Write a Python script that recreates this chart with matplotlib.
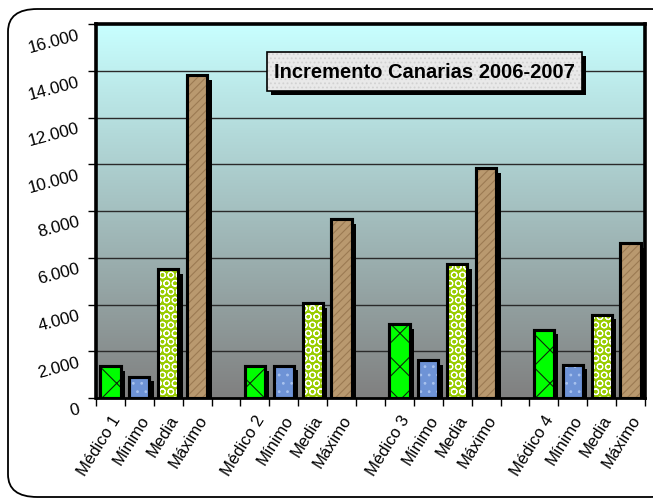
import numpy as np
import matplotlib
matplotlib.use("Agg")
import matplotlib.pyplot as plt
from matplotlib.patches import FancyBboxPatch, Rectangle
from matplotlib.transforms import ScaledTranslation
import matplotlib.patheffects as pe

plt.rcParams['font.family'] = ['Liberation Sans', 'DejaVu Sans']
plt.rcParams['hatch.linewidth'] = 0.8

# ---- data ----
groups = ["Médico 1", "Médico 2", "Médico 3", "Médico 4"]
series = ["Médico", "Mínimo", "Media", "Máximo"]
medico = [1350, 1350, 3150, 2920]
minimo = [900, 1370, 1620, 1410]
media = [5500, 4050, 5730, 3560]
maximo = [13800, 7650, 9830, 6620]
yticks = [0, 2000, 4000, 6000, 8000, 10000, 12000, 14000, 16000]
ytick_labels = ["0", "2.000", "4.000", "6.000", "8.000", "10.000", "12.000", "14.000", "16.000"]
title = "Incremento Canarias 2006-2007"

W, H = 653, 502
fig = plt.figure(figsize=(W / 100, H / 100), dpi=100)
fig.patch.set_facecolor('white')

def fx(px):
    return px / W

def fy(py):
    return 1 - py / H

# outer rounded border
border = FancyBboxPatch((fx(8), fy(498)), fx(680) - fx(8), fy(10) - fy(498),
                        boxstyle="round,pad=0,rounding_size=0.045",
                        transform=fig.transFigure, facecolor='white',
                        edgecolor='black', linewidth=1.3, zorder=0)
fig.patches.append(border)

ax = fig.add_axes([fx(96), fy(399), fx(645) - fx(96), fy(25) - fy(399)])
ax.set_zorder(2)

# category layout: 4 groups of 4 with blank gaps
labels = []
xpos = {s: [] for s in series}
idx = 0
for gi, g in enumerate(groups):
    for si, s in enumerate(series):
        labels.append(g if si == 0 else ["", "Mínimo", "Media", "Máximo"][si])
        xpos[s].append(idx)
        idx += 1
    if gi < len(groups) - 1:
        labels.append("")
        idx += 1
n = len(labels)

# background gradient
grad = np.linspace(0, 1, 256)[:, None]
top = np.array([200, 255, 255]) / 255
bot = np.array([128, 128, 128]) / 255
img = bot[None, None, :] * (1 - grad[..., None]) + top[None, None, :] * grad[..., None]
img = np.repeat(img, 2, axis=1)
ax.imshow(img, extent=[-0.5, n - 0.5, 0, 16000], origin='lower', aspect='auto', zorder=0)

ax.set_xlim(-0.5, n - 0.5)
ax.set_ylim(0, 16000)

for y in yticks[1:-1]:
    ax.axhline(y, color='#2a2a2a', linewidth=1.0, zorder=1)

shadow = [pe.SimplePatchShadow(offset=(3.2, -3.2), shadow_rgbFace='black', alpha=1.0), pe.Normal()]
bw = 0.7

styles = {
    "Médico": dict(fc='#00ff00', hatch='x', hc='#0a2a0a'),
    "Mínimo": dict(fc='#6e93d6', hatch='..', hc='#a8c2ee'),
    "Media": dict(fc='#99cc00', hatch='OO', hc='white'),
    "Máximo": dict(fc='#b9996f', hatch='////', hc='#9b7a52'),
}
vals = {"Médico": medico, "Mínimo": minimo, "Media": media, "Máximo": maximo}

for s in series:
    st = styles[s]
    ax.bar(xpos[s], vals[s], width=bw, color=st['fc'], edgecolor='black', linewidth=2.2,
           zorder=3, path_effects=shadow)
    ax.bar(xpos[s], vals[s], width=bw, color='none', edgecolor=st['hc'], linewidth=0,
           hatch=st['hatch'], zorder=4)
    ax.bar(xpos[s], vals[s], width=bw, color='none', edgecolor='black', linewidth=2.2, zorder=5)

# axes styling
for sp in ax.spines.values():
    sp.set_linewidth(2.6)
    sp.set_color('black')
ax.spines['bottom'].set_linewidth(2.0)

ax.set_yticks(yticks)
ax.set_yticklabels(ytick_labels, rotation=15, fontsize=12.3, ha='right', va='center',
                   rotation_mode='anchor')
ax.tick_params(axis='y', length=6, width=1.0, pad=6)
off = ScaledTranslation(0, -0.10, fig.dpi_scale_trans)
for lab in ax.get_yticklabels():
    lab.set_transform(lab.get_transform() + off)

ax.set_xticks(np.arange(-0.5, n, 1.0))
ax.set_xticklabels([])
ax.tick_params(axis='x', which='major', length=6, width=1.0)
ax.set_xticks(np.arange(n), minor=True)
ax.set_xticklabels(labels, minor=True, rotation=58, fontsize=12, ha='right', va='top',
                   rotation_mode='anchor')
ax.tick_params(axis='x', which='minor', length=0, pad=10)

# title box with shadow
bx0, by0, bx1, by1 = 267, 53, 582, 92
sh = Rectangle((fx(bx0 + 4), fy(by1 + 4)), fx(bx1) - fx(bx0), fy(by0) - fy(by1),
               transform=fig.transFigure, facecolor='black', edgecolor='none', zorder=10)
box = Rectangle((fx(bx0), fy(by1)), fx(bx1) - fx(bx0), fy(by0) - fy(by1),
                transform=fig.transFigure, facecolor='#e9e9e9', edgecolor='#d2d2d2',
                hatch='....', linewidth=0, zorder=11)
boxedge = Rectangle((fx(bx0), fy(by1)), fx(bx1) - fx(bx0), fy(by0) - fy(by1),
                    transform=fig.transFigure, facecolor='none', edgecolor='black',
                    linewidth=1.2, zorder=11.5)
fig.patches.extend([sh, box, boxedge])
fig.text(fx((bx0 + bx1) / 2), fy((by0 + by1) / 2), title, ha='center', va='center',
         fontsize=14.5, fontweight='bold', zorder=12)

fig.savefig("out.png", dpi=100)
